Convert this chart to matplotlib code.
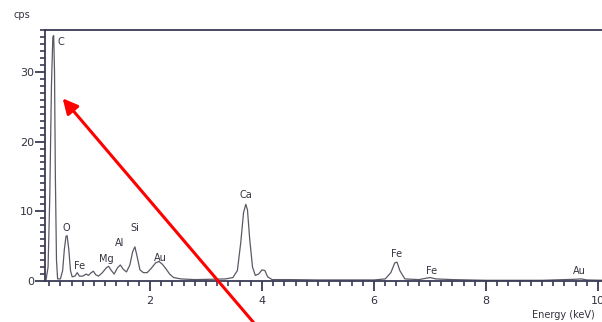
import numpy as np
import matplotlib
matplotlib.use("Agg")
import matplotlib.pyplot as plt
from matplotlib.ticker import MultipleLocator

# spectre (keV, cps)
energie = [0.14, 0.18, 0.21, 0.24, 0.265, 0.28, 0.295, 0.31, 0.33, 0.35,
           0.40, 0.44, 0.47, 0.50, 0.52, 0.55, 0.58, 0.61, 0.66, 0.70,
           0.74, 0.80, 0.86, 0.90, 0.95, 0.99, 1.03, 1.08, 1.15, 1.22,
           1.26, 1.31, 1.36, 1.42, 1.47, 1.52, 1.58, 1.64, 1.69, 1.73,
           1.77, 1.82, 1.88, 1.95, 2.02, 2.10, 2.16, 2.22, 2.28, 2.35,
           2.42, 2.55, 2.80, 3.10, 3.35, 3.48, 3.56, 3.62, 3.67, 3.71,
           3.74, 3.78, 3.83, 3.88, 3.94, 4.00, 4.05, 4.10, 4.18, 4.50,
           5.00, 5.50, 6.00, 6.20, 6.30, 6.37, 6.41, 6.46, 6.55, 6.80,
           7.00, 7.10, 7.40, 8.00, 9.00, 9.60, 9.70, 9.80, 10.10]
coups = [0.0, 2.0, 12.0, 28.0, 35.0, 35.2, 30.0, 15.0, 3.0, 0.3,
         0.3, 1.5, 4.5, 6.4, 6.5, 4.5, 1.5, 0.6, 0.7, 1.2,
         0.7, 0.7, 1.0, 0.8, 1.2, 1.4, 0.9, 0.7, 1.2, 1.9,
         2.1, 1.5, 1.0, 1.9, 2.3, 1.7, 1.3, 2.3, 4.2, 4.9,
         3.5, 1.6, 1.2, 1.2, 1.8, 2.6, 2.8, 2.4, 1.8, 1.0,
         0.5, 0.3, 0.2, 0.25, 0.3, 0.5, 1.5, 5.5, 9.8, 11.0,
         10.2, 6.0, 2.0, 0.8, 1.0, 1.6, 1.5, 0.6, 0.2, 0.2,
         0.15, 0.15, 0.15, 0.3, 1.2, 2.6, 2.7, 1.5, 0.3, 0.2,
         0.5, 0.3, 0.2, 0.1, 0.1, 0.25, 0.3, 0.15, 0.1]

# étiquettes des éléments
elements = ["C", "O", "Fe", "Mg", "Al", "Si", "Au", "Ca", "Fe", "Fe", "Au"]
elem_x = [0.40, 0.51, 0.74, 1.22, 1.46, 1.73, 2.18, 3.72, 6.40, 7.02, 9.66]
elem_y = [34.3, 7.6, 2.2, 3.1, 5.4, 7.6, 3.3, 12.3, 3.9, 1.5, 1.5]

fig = plt.figure(figsize=(6.02, 3.22), dpi=100)
ax = fig.add_axes([45/602, 41/322, 1 - 45/602, 251/322])

trait = '#3a3a55'
ax.plot(energie, coups, color='#5a5a66', lw=0.9)

for nom, x, y in zip(elements, elem_x, elem_y):
    ax.text(x, y, nom, ha='center', va='center', fontsize=7, color='#333340')

ax.set_xlim(0.125, 10.07)
ax.set_ylim(0, 36)

ax.spines['right'].set_visible(False)
for s in ['left', 'bottom', 'top']:
    ax.spines[s].set_color(trait)
    ax.spines[s].set_linewidth(1.3)

ax.set_xticks([2, 4, 6, 8, 10])
ax.xaxis.set_minor_locator(MultipleLocator(0.2))
ax.set_yticks([0, 10, 20, 30])
ax.yaxis.set_minor_locator(MultipleLocator(1))
ax.tick_params(axis='both', which='major', direction='out', length=7, width=1.3,
               color=trait, labelsize=8, labelcolor='#333340')
ax.tick_params(axis='both', which='minor', direction='out', length=3.5, width=1.2,
               color=trait)
ax.tick_params(axis='x', which='major', pad=4)
ax.tick_params(axis='y', which='major', pad=1)

fig.text(13/602, 1 - 15/322, "cps", fontsize=7, color='#333340', va='center')
fig.text(532/602, 1 - 315/322, "Energy (keV)", fontsize=7, color='#333340', va='center')

# flèche rouge
ax.annotate('', xy=(0.44, 26.2), xytext=(3.96, -7.0),
            arrowprops=dict(arrowstyle='-|>,head_length=0.9,head_width=0.45',
                            color='red', lw=2.2, shrinkA=0, shrinkB=0),
            annotation_clip=False)

fig.savefig("out.png", dpi=100)
